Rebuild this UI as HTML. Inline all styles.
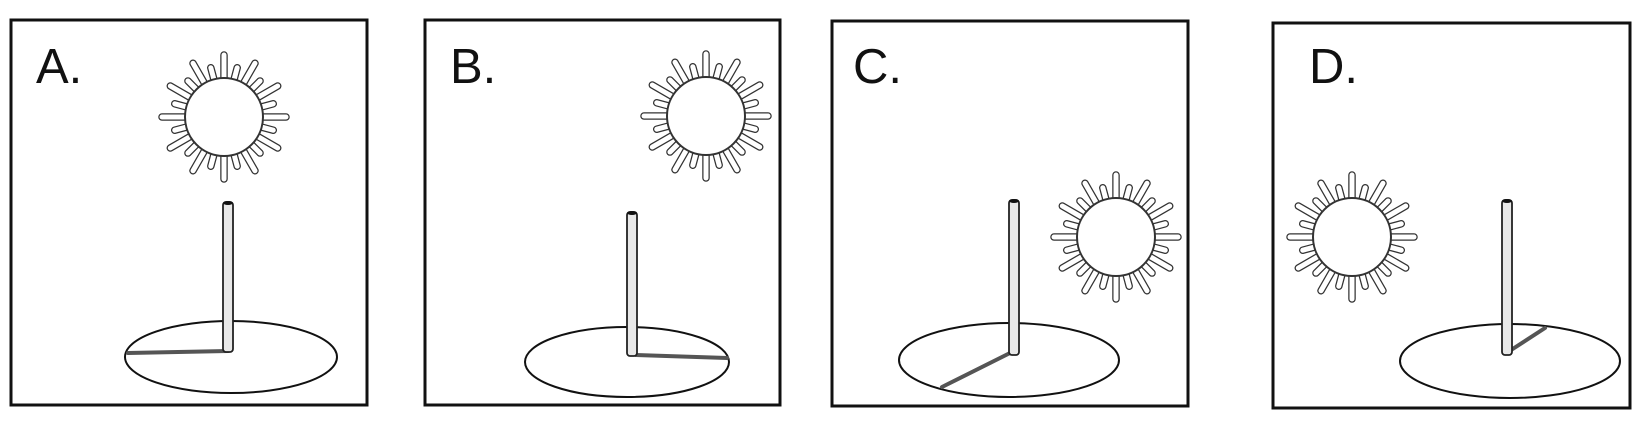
<!DOCTYPE html>
<html><head><style>
html,body{margin:0;padding:0;background:#fff;width:1646px;height:428px;overflow:hidden}
svg{display:block}
text{font-family:"Liberation Sans",sans-serif;font-size:49px;fill:#111}
</style></head><body>
<svg width="1646" height="428" viewBox="0 0 1646 428">
<g fill="none" stroke="#111" stroke-width="3">
<rect x="11" y="20" width="356" height="385"/>
<rect x="425" y="20" width="355" height="385"/>
<rect x="832" y="21" width="356" height="385"/>
<rect x="1273" y="23" width="357" height="385"/>
</g>
<text x="36" y="83">A.</text>
<text x="450" y="83">B.</text>
<text x="853" y="83">C.</text>
<text x="1309" y="83">D.</text>
<g id="suns"></g>
<g stroke="#111" stroke-width="2" fill="#fff">
<ellipse cx="231" cy="357" rx="106" ry="36"/>
<ellipse cx="627" cy="362" rx="102" ry="35"/>
<ellipse cx="1009" cy="360" rx="110" ry="37"/>
<ellipse cx="1510" cy="361" rx="110" ry="37"/>
</g>
<g stroke="#555" stroke-width="4" stroke-linecap="round">
<line x1="228" y1="351" x2="128" y2="353"/>
<line x1="636" y1="355" x2="727" y2="358"/>
<line x1="1012" y1="352" x2="942" y2="387"/>
<line x1="1508" y1="352" x2="1545" y2="328"/>
</g>
<g stroke="#222" stroke-width="1.8" fill="#e8e8e8">
<rect x="223" y="202" width="10" height="150" rx="3"/>
<rect x="627" y="212" width="10" height="144" rx="3"/>
<rect x="1009" y="200" width="10" height="155" rx="3"/>
<rect x="1502" y="200" width="10" height="155" rx="3"/>
</g>
<g fill="#111">
<ellipse cx="228" cy="203" rx="5" ry="2"/>
<ellipse cx="632" cy="213" rx="5" ry="2"/>
<ellipse cx="1014" cy="201" rx="5" ry="2"/>
<ellipse cx="1507" cy="201" rx="5" ry="2"/>
</g>
</svg>
<script>
(function(){
var ns="http://www.w3.org/2000/svg";
var g=document.getElementById('suns');
var centers=[[224,117],[706,116],[1116,237],[1352,237]];
centers.forEach(function(c){
  var grp=document.createElementNS(ns,'g');
  for(var pass=0;pass<2;pass++){
    for(var i=0;i<24;i++){
      var a=i*Math.PI/12, L=(i%2==0)?62:51;
      var l=document.createElementNS(ns,'line');
      l.setAttribute('x1',c[0]+Math.cos(a)*36);
      l.setAttribute('y1',c[1]+Math.sin(a)*36);
      l.setAttribute('x2',c[0]+Math.cos(a)*L);
      l.setAttribute('y2',c[1]+Math.sin(a)*L);
      l.setAttribute('stroke',pass?'#fff':'#333');
      l.setAttribute('stroke-width',pass?5:7.5);
      l.setAttribute('stroke-linecap','round');
      grp.appendChild(l);
    }
  }
  var ci=document.createElementNS(ns,'circle');
  ci.setAttribute('cx',c[0]);ci.setAttribute('cy',c[1]);ci.setAttribute('r',39);
  ci.setAttribute('fill','#fff');ci.setAttribute('stroke','#333');ci.setAttribute('stroke-width','2');
  grp.appendChild(ci);
  g.appendChild(grp);
});
})();
</script>
</body></html>
